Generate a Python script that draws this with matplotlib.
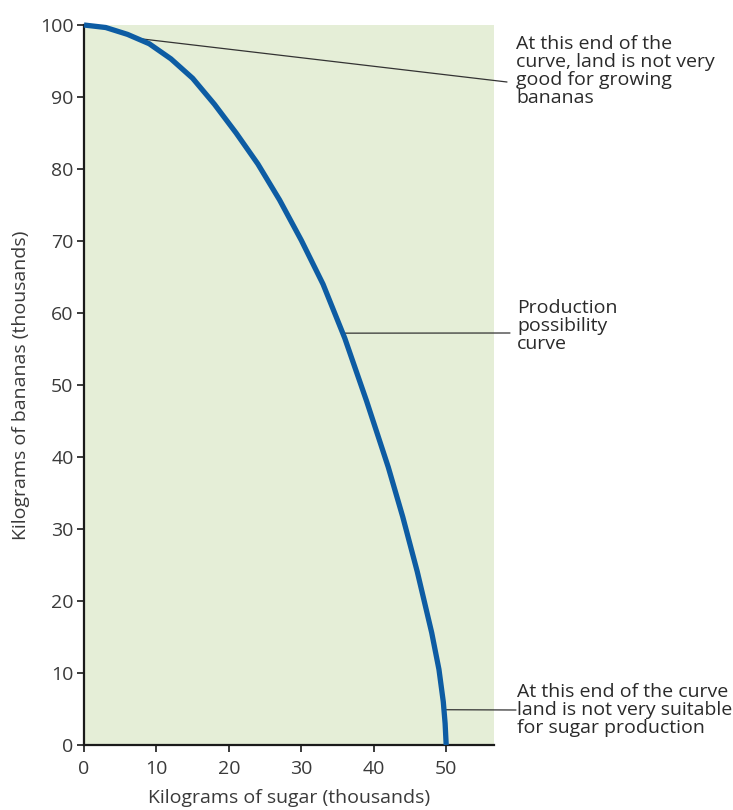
import matplotlib
matplotlib.use("Agg")
import matplotlib.pyplot as plt

# Data (thousands of kg)
sugar = [0, 3, 6, 9, 12, 15, 18, 21, 24, 27, 30, 33, 36, 39, 42, 44, 46, 48, 49, 49.6, 49.85, 50.0]
bananas = [100, 99.65, 98.7, 97.4, 95.3, 92.6, 89.0, 85.0, 80.7, 75.7, 70.1, 64.0, 56.5,
           47.8, 38.6, 31.7, 24.1, 15.6, 10.5, 6.0, 3.0, 0]

x_ticks = [0, 10, 20, 30, 40, 50]
y_ticks = [0, 10, 20, 30, 40, 50, 60, 70, 80, 90, 100]

x_label = "Kilograms of sugar (thousands)"
y_label = "Kilograms of bananas (thousands)"

notes = [
    "At this end of the\ncurve, land is not very\ngood for growing\nbananas",
    "Production\npossibility\ncurve",
    "At this end of the curve\nland is not very suitable\nfor sugar production",
]
note_points = [(7.7, 98.1), (35.7, 57.2), (49.75, 4.9)]

plt.rcParams['font.family'] = ['Open Sans', 'DejaVu Sans']

W, H = 733, 810
fig = plt.figure(figsize=(W / 100, H / 100), dpi=100)
ax = fig.add_axes([84 / W, 1 - 745 / H, (494 - 84) / W, (745 - 25) / H])
ax.set_facecolor('#E5EED7')

ax.plot(sugar, bananas, color='#0D5CA3', lw=3.8, solid_capstyle='butt',
        solid_joinstyle='round', clip_on=False, zorder=3)

ax.set_xlim(0, 56.6)
ax.set_ylim(0, 100)
ax.set_xticks(x_ticks)
ax.set_yticks(y_ticks)
for s in ['top', 'right']:
    ax.spines[s].set_visible(False)
for s in ['left', 'bottom']:
    ax.spines[s].set_linewidth(1.6)
    ax.spines[s].set_color('#1a1a1a')
ax.tick_params(direction='out', length=5, width=1.2, colors='#1a1a1a',
               labelsize=14, labelcolor='#3a3a3a')
ax.tick_params(axis='y', pad=2.5)
ax.tick_params(axis='x', pad=6)

ax.set_xlabel(x_label, fontsize=14, color='#3a3a3a', labelpad=8)
ax.set_ylabel(y_label, fontsize=14, color='#3a3a3a', labelpad=7)

# annotation leader-line ends and text positions (pixels from top-left)
line_ends = [(507, 82), (510, 333), (516, 710)]
text_pos = [(516, 35), (517, 299), (517, 683)]

for note, pt, le, tp in zip(notes, note_points, line_ends, text_pos):
    ax.annotate("", xy=pt, xycoords='data',
                xytext=(le[0] / W, 1 - le[1] / H), textcoords='figure fraction',
                arrowprops=dict(arrowstyle='-', color='#333333', lw=0.9,
                                shrinkA=0, shrinkB=0),
                annotation_clip=False, zorder=2)
    fig.text(tp[0] / W, 1 - tp[1] / H, note, ha='left', va='top',
             fontsize=14, color='#2a2a2a', linespacing=1.0)

fig.savefig("out.png", dpi=100)
